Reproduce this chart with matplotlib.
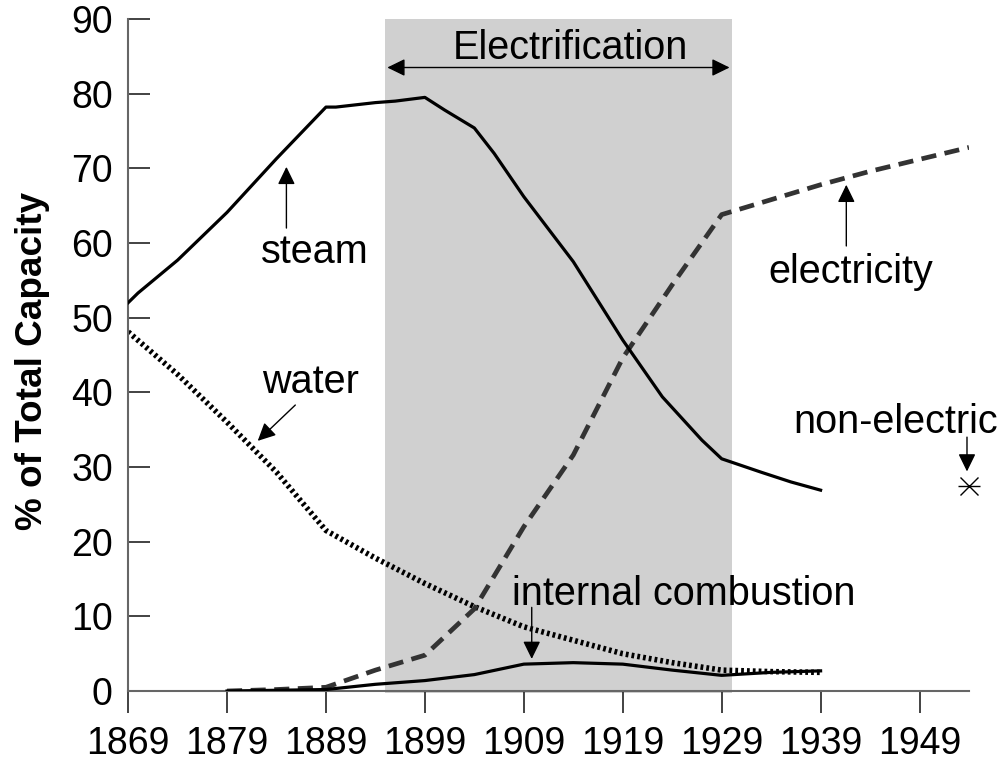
import matplotlib
matplotlib.use('Agg')
import matplotlib.pyplot as plt

plt.rcParams['font.family'] = ['Liberation Sans', 'DejaVu Sans']

# data
steam_years = [1869, 1870, 1874, 1879, 1884, 1889, 1890, 1894, 1896, 1899, 1901, 1904,
               1906, 1909, 1914, 1919, 1923, 1927, 1929, 1933, 1936, 1939]
steam = [52, 53.3, 57.7, 64.1, 71.3, 78.2, 78.2, 78.8, 79.0, 79.5, 77.8, 75.4,
         72.0, 66.2, 57.5, 47.0, 39.4, 33.6, 31.1, 29.3, 28.0, 26.9]

water_years = [1869, 1874, 1879, 1884, 1889, 1894, 1899, 1904, 1909, 1914, 1919,
               1924, 1929, 1934, 1939]
water = [48.1, 42.4, 36.0, 29.3, 21.5, 17.8, 14.4, 11.3, 8.6, 6.8, 5.0,
         3.8, 2.8, 2.6, 2.5]

elec_years = [1879, 1884, 1889, 1894, 1899, 1904, 1909, 1914, 1919, 1924, 1929,
              1934, 1939, 1944, 1949, 1954]
electricity = [0, 0.2, 0.5, 2.8, 4.8, 11.0, 22.0, 31.6, 44.6, 54.4, 63.8,
               65.8, 67.8, 69.6, 71.2, 72.8]

ic_years = [1879, 1884, 1889, 1894, 1899, 1904, 1909, 1914, 1919, 1924, 1929,
            1934, 1939]
internal = [0, 0.1, 0.2, 0.9, 1.4, 2.2, 3.6, 3.8, 3.6, 2.8, 2.1, 2.5, 2.7]

nonelec_year = [1954]
nonelec = [27.5]

electrification = (1895, 1930)

x_ticks = list(range(1869, 1950, 10))
y_ticks = list(range(0, 91, 10))

fig = plt.figure(figsize=(10.01, 7.65), dpi=100)
ax = fig.add_axes([0.128, 0.0967, 0.840, 0.8785])

ax.fill_between(electrification, -0.3, 90, color='#d0d0d0', lw=0, zorder=0, clip_on=False)

ax.plot(water_years, water, color='black', lw=4, linestyle=(0, (0.5, 0.55)), zorder=2)
ax.plot(elec_years, electricity, color='#333333', lw=3.4, linestyle=(0, (3.2, 1.8)), zorder=3)
ax.plot(steam_years, steam, color='black', lw=2.3, zorder=4)
ax.plot(ic_years, internal, color='black', lw=2.3, zorder=4)
# asterisk: an x plus a horizontal bar
ax.plot(nonelec_year, nonelec, marker='x', markersize=13, color='black',
        mew=1, linestyle='none', clip_on=False, zorder=5)
ax.plot(nonelec_year, nonelec, marker='_', markersize=16, color='black',
        mew=1, linestyle='none', clip_on=False, zorder=5)

ax.set_xlim(1869, 1954)
ax.set_ylim(0, 90)
ax.set_xticks(x_ticks)
ax.set_yticks(y_ticks)

for s in ['top', 'right']:
    ax.spines[s].set_visible(False)
for s in ['left', 'bottom']:
    ax.spines[s].set_color('#666666')
    ax.spines[s].set_linewidth(1.5)
ax.tick_params(axis='y', direction='in', length=16, width=1.2, color='#222222',
               labelsize=27, pad=11)
ax.tick_params(axis='x', direction='out', length=16, width=1.2, color='#222222',
               labelsize=27, pad=9)
ax.set_facecolor('none')

ax.set_ylabel('% of Total Capacity', fontsize=26.6, fontweight='bold')
ax.yaxis.set_label_coords(-0.093, 0.491)

txt = dict(fontsize=28.5, color='black', ha='center', va='baseline')
arr = dict(arrowstyle='-|>,head_length=0.45,head_width=0.22', color='black', lw=1,
           mutation_scale=24, shrinkA=0, shrinkB=0)

ax.annotate('', xy=(electrification[0] + 0.2, 83.5), xytext=(electrification[1] - 0.2, 83.5),
            arrowprops=dict(arrowstyle='<|-|>,head_length=0.45,head_width=0.22', color='black',
                            lw=1, mutation_scale=24, shrinkA=0, shrinkB=0))
ax.text(1913.7, 84.7, 'Electrification', **txt)

ax.annotate('', xy=(1885, 70.2), xytext=(1885, 62), arrowprops=arr)
ax.text(1887.9, 57.3, 'steam', **txt)

ax.annotate('', xy=(1882.1, 33.5), xytext=(1885.9, 38.3), arrowprops=arr)
ax.text(1887.4, 39.9, 'water', **txt)

ax.annotate('', xy=(1909.8, 4.3), xytext=(1909.8, 11.2), arrowprops=arr)
ax.text(1925.2, 11.5, 'internal combustion', **txt)

ax.annotate('', xy=(1941.6, 67.8), xytext=(1941.6, 59.6), arrowprops=arr)
ax.text(1942.1, 54.6, 'electricity', **txt)

ax.annotate('', xy=(1953.8, 29.4), xytext=(1953.8, 34), arrowprops=arr, annotation_clip=False)
ax.text(1946.6, 34.5, 'non-electric', clip_on=False, **txt)

fig.savefig('out.png', dpi=100)
